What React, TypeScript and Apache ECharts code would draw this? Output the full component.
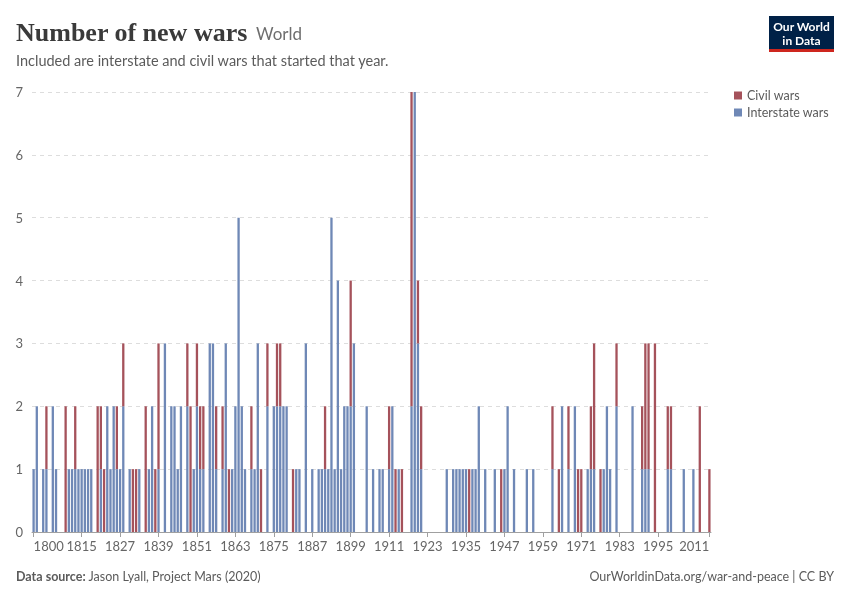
import React, { useEffect, useRef } from "react";
import * as echarts from "echarts";

const firstYear = 1800;
const lastYear = 2011;

// [year, number of new wars]
const interstateWars: [number, number][] = [
  [1800, 1], [1801, 2], [1803, 1], [1804, 1], [1806, 2], [1807, 1], [1811, 1], [1812, 1],
  [1813, 1], [1814, 1], [1815, 1], [1816, 1], [1817, 1], [1818, 1], [1821, 1], [1823, 2],
  [1824, 1], [1825, 2], [1826, 1], [1827, 1], [1828, 2], [1830, 1], [1833, 1], [1836, 1],
  [1837, 2], [1839, 1], [1841, 3], [1843, 2], [1844, 2], [1845, 1], [1846, 2], [1848, 2],
  [1850, 1], [1851, 2], [1852, 1], [1853, 1], [1855, 3], [1856, 3], [1857, 1], [1859, 1],
  [1860, 3], [1862, 1], [1863, 2], [1864, 5], [1865, 2], [1866, 1], [1868, 1], [1869, 1],
  [1870, 3], [1873, 2], [1875, 2], [1876, 2], [1877, 2], [1878, 2], [1879, 2], [1882, 1],
  [1883, 1], [1885, 3], [1887, 1], [1889, 1], [1890, 1], [1891, 1], [1892, 1], [1893, 5],
  [1894, 1], [1895, 4], [1896, 1], [1897, 2], [1898, 2], [1899, 2], [1900, 3], [1904, 2],
  [1906, 1], [1908, 1], [1909, 1], [1911, 1], [1912, 2], [1914, 1], [1918, 2], [1919, 7],
  [1920, 3], [1921, 1], [1929, 1], [1931, 1], [1932, 1], [1933, 1], [1934, 1], [1935, 1],
  [1937, 1], [1938, 1], [1939, 2], [1941, 1], [1944, 1], [1947, 1], [1948, 2], [1950, 1],
  [1954, 1], [1956, 1], [1962, 1], [1965, 2], [1967, 1], [1969, 2], [1973, 1], [1974, 1],
  [1975, 1], [1978, 1], [1979, 2], [1980, 1], [1982, 2], [1987, 2], [1990, 1], [1991, 1],
  [1992, 1], [1998, 1], [1999, 1], [2003, 1], [2006, 1],
];

const civilWars: [number, number][] = [
  [1804, 1], [1810, 2], [1813, 1], [1820, 2], [1821, 1], [1822, 1], [1826, 1], [1828, 1],
  [1831, 1], [1832, 1], [1835, 2], [1838, 1], [1839, 2], [1848, 1], [1849, 2], [1851, 1],
  [1852, 1], [1853, 1], [1857, 1], [1859, 1], [1861, 1], [1868, 1], [1871, 1], [1873, 1],
  [1876, 1], [1877, 1], [1881, 1], [1891, 1], [1899, 2], [1911, 1], [1913, 1], [1915, 1],
  [1918, 5], [1920, 1], [1921, 1], [1936, 1], [1946, 1], [1962, 1], [1964, 1], [1967, 1],
  [1970, 1], [1971, 1], [1974, 1], [1975, 2], [1977, 1], [1982, 1], [1990, 1], [1991, 2],
  [1992, 2], [1994, 3], [1998, 1], [1999, 1], [2008, 2], [2011, 1],
];

const tickLabels = [
  "1800", "1815", "1827", "1839", "1851", "1863", "1875", "1887", "1899",
  "1911", "1923", "1935", "1947", "1959", "1971", "1983", "1995", "2011",
];

const civilColor = "#a5525b";
const interstateColor = "#6f88b6";

export default function App() {
  const ref = useRef<HTMLDivElement>(null);

  useEffect(() => {
    if (!ref.current) return;
    const chart = echarts.init(ref.current, null, { renderer: "svg" });

    const years: string[] = [];
    for (let y = firstYear; y <= lastYear; y++) years.push(String(y));
    const toSeries = (pairs: [number, number][]) => {
      const m = new Map(pairs);
      return years.map((y) => (m.has(Number(y)) ? m.get(Number(y))! : 0));
    };
    const showLabel = (_i: number, v: string) => tickLabels.includes(v);

    chart.setOption({
      animation: false,
      textStyle: { fontFamily: "Lato, sans-serif" },
      grid: { left: 32, right: 139, top: 92, bottom: 68, containLabel: false },
      legend: {
        data: ["Civil wars", "Interstate wars"],
        orient: "vertical",
        left: 734,
        top: 89,
        padding: 0,
        itemWidth: 8,
        itemHeight: 8,
        itemGap: 4,
        icon: "rect",
        selectedMode: false,
        textStyle: { fontSize: 12.5, color: "#5b5b5b", fontFamily: "Lato, sans-serif" },
      },
      xAxis: {
        type: "category",
        data: years,
        axisLine: { show: true, lineStyle: { color: "#a0a0a0", width: 1 } },
        axisTick: { show: true, interval: showLabel, alignWithLabel: true, length: 5, lineStyle: { color: "#a0a0a0" } },
        axisLabel: {
          interval: showLabel,
          color: "#666",
          fontSize: 13,
          margin: 7,
          alignMinLabel: "left",
          alignMaxLabel: "right",
        },
      },
      yAxis: {
        type: "value",
        min: 0,
        max: 7,
        interval: 1,
        axisLabel: { color: "#666", fontSize: 13, margin: 9 },
        axisLine: { show: false },
        axisTick: { show: false },
        splitLine: { lineStyle: { color: "#dddddd", type: [4, 4] } },
      },
      series: [
        {
          name: "Interstate wars",
          type: "bar",
          stack: "wars",
          data: toSeries(interstateWars),
          itemStyle: { color: interstateColor },
          barCategoryGap: "28%",
        },
        {
          name: "Civil wars",
          type: "bar",
          stack: "wars",
          data: toSeries(civilWars),
          itemStyle: { color: civilColor },
          barCategoryGap: "28%",
        },
      ],
      graphic: [
        {
          type: "text",
          left: 16,
          top: 19,
          style: {
            text: "Number of new wars",
            font: "bold 26px 'Liberation Serif', 'DejaVu Serif', serif",
            fill: "#3a3a3a",
          },
        },
        {
          type: "text",
          left: 256,
          top: 25,
          style: { text: "World", font: "17px Lato, sans-serif", fill: "#6e6e6e" },
        },
        {
          type: "text",
          left: 16,
          top: 53,
          style: {
            text: "Included are interstate and civil wars that started that year.",
            font: "14.5px Lato, sans-serif",
            fill: "#5b5b5b",
          },
        },
        { type: "rect", shape: { x: 769, y: 16, width: 65, height: 34 }, style: { fill: "#002147" } },
        { type: "rect", shape: { x: 769, y: 49, width: 65, height: 3 }, style: { fill: "#ce261e" } },
        {
          type: "text",
          x: 801.5,
          y: 26.5,
          style: {
            text: "Our World",
            font: "bold 12px Lato, sans-serif",
            lineHeight: 12,
            fill: "#fff",
            align: "center",
            verticalAlign: "middle",
          },
        },
        {
          type: "text",
          x: 801.5,
          y: 40.5,
          style: {
            text: "in Data",
            font: "bold 12px Lato, sans-serif",
            lineHeight: 12,
            fill: "#fff",
            align: "center",
            verticalAlign: "middle",
          },
        },
        {
          type: "text",
          left: 16,
          top: 570,
          style: {
            text: "{b|Data source:} Jason Lyall, Project Mars (2020)",
            font: "12.5px Lato, sans-serif",
            fill: "#5b5b5b",
            rich: { b: { fontWeight: "bold", fontSize: 12.5, fill: "#5b5b5b", fontFamily: "Lato, sans-serif" } },
          },
        },
        {
          type: "text",
          right: 16,
          top: 570,
          style: {
            text: "OurWorldinData.org/war-and-peace | CC BY",
            font: "12.5px Lato, sans-serif",
            fill: "#5b5b5b",
          },
        },
      ],
    });

    return () => chart.dispose();
  }, []);

  return <div ref={ref} style={{ position: "fixed", left: 0, top: 0, width: 850, height: 600 }} />;
}
